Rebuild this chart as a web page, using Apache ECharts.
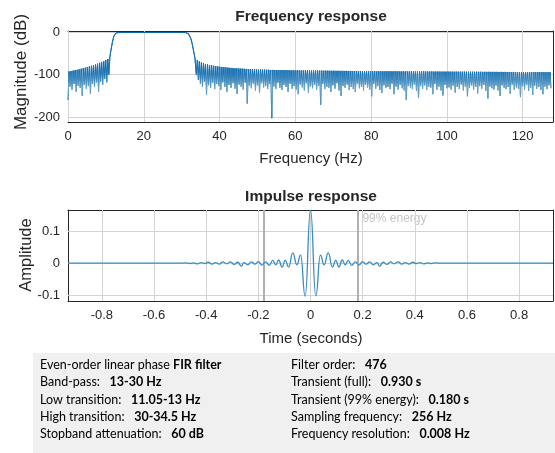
<!DOCTYPE html>
<html>
<head>
<meta charset="utf-8">
<script src="https://cdn.jsdelivr.net/npm/echarts@6/dist/echarts.min.js"></script>
<style>
  html, body { margin: 0; padding: 0; background: #ffffff; }
  #chart { width: 555px; height: 453px; }
</style>
</head>
<body>
<div id="chart"></div>
<script>
// ---------- Frequency response (magnitude, dB) ----------
// Stopband sidelobes: one peak and one null per lobe.
const lobeStep = 0.538;          // Hz between neighbouring sidelobes
const lowStopStart = 0;          // first null of the lower stopband
const lowStopNulls = [-160, -128, -135, -122, -140, -126, -131, -150, -124, -133, -127,
  -145, -122, -129, -118, -140, -116, -124, -110, -118, -100];
const lowStopPeaks = [-92.5, -91.5, -90.5, -89.5, -88.5, -87.3, -86, -84.8, -83.5, -82, -80.5,
  -79, -77.5, -76, -74, -72, -70, -68, -65.5, -63, -60.5];

// Transition bands and passband
const transitionFreq = [11.2, 11.45, 11.7, 11.95, 12.2, 12.45, 12.7, 13.0, 13.5,
  30.0, 31.0, 31.4, 31.8, 32.1, 32.4, 32.7, 33.0, 33.3, 33.5];
const transitionMag = [-49, -36, -24, -14, -7, -3, -1, -0.2, 0,
  0, -0.2, -0.8, -3, -7, -14, -24, -37, -51, -60];

const highStopStart = 33.6;      // first peak of the upper stopband
const highStopPeaks = [
  -62, -65.5, -68.5, -71, -73, -74.6, -75.9, -77.1, -78, -79,
  -79.7, -80.6, -81.1, -81.9, -82.2, -82.9, -83.2, -83.8, -84, -84.6,
  -84.8, -85.3, -85.4, -85.9, -86, -86.5, -86.5, -87, -87, -87.4,
  -87.4, -87.8, -87.8, -88.1, -88.1, -88.5, -88.4, -88.8, -88.7, -89,
  -88.9, -89.2, -89.1, -89.4, -89.3, -89.6, -89.4, -89.7, -89.6, -89.9,
  -89.8, -90, -89.9, -90.1, -90, -90.2, -90.1, -90.3, -90.2, -90.4,
  -90.3, -90.5, -90.4, -90.6, -90.5, -90.7, -90.6, -90.8, -90.7, -90.9,
  -90.8, -91, -90.9, -91.1, -91, -91.2, -91.1, -91.3, -91.2, -91.4,
  -91.3, -91.5, -91.4, -91.6, -91.5, -91.7, -91.6, -91.8, -91.7, -91.9,
  -91.9, -92.0, -91.9, -92.1, -92.0, -92.1, -92.0, -92.2, -92.1, -92.2,
  -92.1, -92.3, -92.2, -92.3, -92.2, -92.4, -92.3, -92.4, -92.3, -92.5,
  -92.4, -92.5, -92.4, -92.6, -92.5, -92.6, -92.5, -92.7, -92.6, -92.7,
  -92.6, -92.8, -92.7, -92.8, -92.7, -92.9, -92.8, -92.9, -92.8, -93.0,
  -92.9, -93.0, -92.9, -93.1, -93.0, -93.1, -93.0, -93.2, -93.1, -93.2,
  -93.1, -93.3, -93.2, -93.3, -93.2, -93.4, -93.3, -93.4, -93.3, -93.5,
  -93.4, -93.5, -93.4, -93.6, -93.5, -93.6, -93.5, -93.7, -93.6, -93.7,
  -93.6, -93.8, -93.7, -93.8, -93.7, -93.9, -93.8, -93.9, -93.8, -94.0,
  -93.9, -94.0, -93.9, -94.1, -94.0];
const highStopNulls = [
  -100, -112, -121, -128, -117, -148, -125, -131, -119, -134,
  -122, -127, -136, -118, -129, -140, -124, -131, -120, -133,
  -145, -123, -128, -135, -119, -168, -126, -132, -121, -137,
  -125, -142, -120, -130, -127, -134, -122, -203, -128, -133,
  -119, -131, -136, -124, -129, -140, -121, -133, -127, -135,
  -146, -123, -130, -137, -120, -142, -128, -132, -124, -136,
  -126, -171, -122, -134, -129, -131, -141, -125, -133, -120,
  -137, -150, -127, -131, -123, -136, -129, -134, -141, -121,
  -132, -128, -137, -124, -130, -135, -151, -122, -133, -127,
  -136, -143, -125, -131, -129, -134, -121, -146, -128, -135,
  -124, -132, -137, -160, -126, -130, -134, -123, -138, -154,
  -127, -133, -125, -136, -129, -131, -146, -122, -135, -128,
  -137, -149, -124, -132, -130, -135, -126, -142, -129, -134,
  -123, -137, -128, -151, -131, -125, -136, -129, -144, -127,
  -133, -124, -138, -156, -128, -132, -135, -126, -137, -150,
  -125, -131, -134, -129, -145, -123, -136, -130, -133, -153,
  -127, -135, -124, -138, -131, -148, -126, -133, -129, -136,
  -146, -128, -134, -125, -132];

const freqRange = [0, 128];
const magRange = [-212, 3.5];
const freqTicks = [0, 20, 40, 60, 80, 100, 120];
const magTicks = [-200, -100, 0];

// ---------- Impulse response ----------
const impulseTime = [-0.93, -0.5, -0.48, -0.462, -0.448, -0.434, -0.42, -0.406, -0.392, -0.378,
  -0.364, -0.35, -0.336, -0.321, -0.307, -0.293, -0.279, -0.265, -0.255, -0.241,
  -0.227, -0.213, -0.2, -0.186, -0.172, -0.158, -0.145, -0.133, -0.122, -0.109,
  -0.097, -0.084, -0.068, -0.052, -0.038, -0.0205, 0, 0.0205, 0.038, 0.052,
  0.068, 0.084, 0.097, 0.109, 0.122, 0.133, 0.145, 0.158, 0.172, 0.186,
  0.2, 0.213, 0.227, 0.241, 0.255, 0.265, 0.279, 0.293, 0.307, 0.321,
  0.336, 0.35, 0.364, 0.378, 0.392, 0.406, 0.42, 0.434, 0.448, 0.462,
  0.48, 0.5, 0.93];
const impulseAmp = [0, 0, 0.001, -0.001, 0.001, -0.002, 0.002, -0.001, 0.003, -0.003,
  0.002, -0.003, 0.004, -0.002, 0.004, -0.004, 0.003, -0.009, 0.002, -0.005,
  0.004, -0.003, 0.005, -0.006, 0.004, -0.007, 0.009, -0.005, 0.010, -0.012,
  0.009, -0.012, 0.032, -0.005, 0.025, -0.103, 0.166, -0.102, 0.025, -0.005,
  0.032, -0.012, 0.009, -0.012, 0.010, -0.005, 0.009, -0.007, 0.004, -0.006,
  0.005, -0.003, 0.004, -0.005, 0.002, -0.009, 0.003, -0.004, 0.004, -0.002,
  0.004, -0.003, 0.002, -0.003, 0.003, -0.001, 0.002, -0.002, 0.001, -0.001,
  0.001, 0, 0];
const energyBounds = [-0.18, 0.18];   // 99% energy window, s
const timeRange = [-0.93, 0.93];
const ampRange = [-0.118, 0.166];
const timeTicks = [-0.8, -0.6, -0.4, -0.2, 0, 0.2, 0.4, 0.6, 0.8];
const ampTicks = [-0.1, 0, 0.1];

// ---------- Filter summary ----------
const infoLeft = [
  ['Even-order linear phase ', 'FIR filter'],
  ['Band-pass:   ', '13-30 Hz'],
  ['Low transition:   ', '11.05-13 Hz'],
  ['High transition:   ', '30-34.5 Hz'],
  ['Stopband attenuation:   ', '60 dB']
];
const infoRight = [
  ['Filter order:   ', '476'],
  ['Transient (full):   ', '0.930 s'],
  ['Transient (99% energy):   ', '0.180 s'],
  ['Sampling frequency:   ', '256 Hz'],
  ['Frequency resolution:   ', '0.008 Hz']
];

// ---------- build series data ----------
function zigzag(start, step, first, second) {
  const pts = [];
  first.forEach((v, i) => {
    pts.push([start + i * step, v]);
    pts.push([start + (i + 0.5) * step, second[i]]);
  });
  return pts;
}
const freqData = [].concat(
  zigzag(lowStopStart, lobeStep, lowStopNulls, lowStopPeaks),
  transitionFreq.map((f, i) => [f, transitionMag[i]]),
  zigzag(highStopStart, lobeStep, highStopPeaks, highStopNulls)
);
const impulseData = impulseTime.map((t, i) => [t, impulseAmp[i]]);

// ---------- styling ----------
const AXIS_COLOR = '#262626';
const GRID_COLOR = '#d2d2d2';
const FONT = 'Liberation Sans, Arial, sans-serif';

function boxAxis(gridIndex, position, range, ticks, withLabels, fmt) {
  return {
    type: 'value', gridIndex, position,
    min: range[0], max: range[1],
    axisLine: { show: true, onZero: false, lineStyle: { color: AXIS_COLOR, width: 1 } },
    axisTick: { show: true, inside: true, length: 4, customValues: ticks,
      lineStyle: { color: AXIS_COLOR, width: 1 } },
    axisLabel: withLabels ? {
      show: true, customValues: ticks, margin: 8, color: AXIS_COLOR,
      fontFamily: FONT, fontSize: 13, formatter: fmt
    } : { show: false },
    splitLine: { show: false },
    minorTick: { show: false }
  };
}

const gridLineStyle = { color: GRID_COLOR, width: 1, type: 'solid' };
function gridMarks(xTicks, yTicks) {
  return xTicks.map(v => ({ xAxis: v, lineStyle: gridLineStyle }))
    .concat(yTicks.map(v => ({ yAxis: v, lineStyle: gridLineStyle })));
}

const chart = echarts.init(document.getElementById('chart'), null, { renderer: 'canvas' });

const option = {
  animation: false,
  backgroundColor: '#ffffff',
  grid: [
    { left: 68, top: 31, width: 485, height: 91, outerBoundsMode: 'none', containLabel: false },
    { left: 68, top: 210, width: 485, height: 91, outerBoundsMode: 'none', containLabel: false }
  ],
  xAxis: [
    boxAxis(0, 'bottom', freqRange, freqTicks, true, v => String(v)),
    boxAxis(0, 'top', freqRange, freqTicks, false),
    boxAxis(1, 'bottom', timeRange, timeTicks, true, v => String(Math.round(v * 10) / 10)),
    boxAxis(1, 'top', timeRange, timeTicks, false)
  ],
  yAxis: [
    boxAxis(0, 'left', magRange, magTicks, true, v => String(v)),
    boxAxis(0, 'right', magRange, magTicks, false),
    boxAxis(1, 'left', ampRange, ampTicks, true, v => String(Math.round(v * 10) / 10)),
    boxAxis(1, 'right', ampRange, ampTicks, false)
  ],
  series: [
    {
      // grid lines of the frequency plot
      type: 'line', xAxisIndex: 0, yAxisIndex: 0, data: [], z: 1, silent: true,
      markLine: { silent: true, symbol: 'none', z: 1, animation: false,
        label: { show: false }, data: gridMarks(freqTicks, magTicks) }
    },
    {
      type: 'line', name: 'Magnitude', xAxisIndex: 0, yAxisIndex: 0, z: 3,
      data: freqData, showSymbol: false, symbol: 'none', silent: true,
      lineStyle: {
        width: 1,
        color: {
          type: 'linear', x: 0, y: 31, x2: 0, y2: 122, global: true,
          colorStops: [
            { offset: 0, color: '#0d69ad' },
            { offset: 0.45, color: '#1a72b3' },
            { offset: 0.62, color: '#6aa4c9' },
            { offset: 1, color: '#2f7ea8' }
          ]
        }
      }
    },
    {
      // grid lines and 99% energy bounds of the impulse plot
      type: 'line', xAxisIndex: 2, yAxisIndex: 2, data: [], z: 1, silent: true,
      markLine: { silent: true, symbol: 'none', z: 1, animation: false,
        label: { show: false },
        data: gridMarks(timeTicks, ampTicks).concat(
          energyBounds.map(v => ({ xAxis: v, lineStyle: { color: '#b0b0b0', width: 2, type: 'solid' } })))
      }
    },
    {
      type: 'line', name: 'Impulse', xAxisIndex: 2, yAxisIndex: 2, z: 3,
      data: impulseData, showSymbol: false, symbol: 'none', silent: true,
      smooth: 0.5, smoothMonotone: 'x',
      lineStyle: { width: 1.3, color: '#3a8cc0' }
    }
  ]
};
chart.setOption(option);

// ---------- titles, axis names, annotation, summary panel ----------
const energyPx = chart.convertToPixel({ xAxisIndex: 2, yAxisIndex: 2 }, [energyBounds[1], ampRange[1]]);

function textEl(text, x, y, font, extra) {
  return Object.assign({
    type: 'text', x, y, silent: true,
    style: { text, font, fill: AXIS_COLOR, align: 'center', verticalAlign: 'middle' }
  }, extra || {});
}

const INFO_FONT = 'Lato, "Noto Sans", sans-serif';
const rich = { b: { fontWeight: 'bold', fontFamily: INFO_FONT, fontSize: 12.5, fill: '#000000' } };
const infoRowsY = [365, 382.3, 399.7, 417, 434.3];
function infoEls(rows, x) {
  return rows.map((r, i) => ({
    type: 'text', x, y: infoRowsY[i], silent: true,
    style: {
      text: r[0] + '{b|' + r[1] + '}',
      rich, fontFamily: INFO_FONT, fontSize: 12.5, fill: '#000000',
      align: 'left', verticalAlign: 'middle'
    }
  }));
}

chart.setOption({
  graphic: { elements: [
    { type: 'rect', shape: { x: 33, y: 353, width: 522, height: 100 }, z: -1, silent: true,
      style: { fill: '#f0f0f0' } },
    textEl('Frequency response', 311, 16.5, 'bold 15.5px ' + FONT),
    textEl('Impulse response', 311, 196.5, 'bold 15.5px ' + FONT),
    textEl('Frequency (Hz)', 311, 159, '15px ' + FONT),
    textEl('Time (seconds)', 311, 339, '15px ' + FONT),
    textEl('Magnitude (dB)', 21.5, 72, '17px ' + FONT, { rotation: Math.PI / 2 }),
    textEl('Amplitude', 26, 255, '16.5px ' + FONT, { rotation: Math.PI / 2 }),
    {
      type: 'text', x: energyPx[0] + 5, y: energyPx[1] + 9, silent: true,
      style: { text: '99% energy', font: '12px ' + FONT, fill: '#c4c4c4',
        align: 'left', verticalAlign: 'middle' }
    }
  ].concat(infoEls(infoLeft, 40), infoEls(infoRight, 291)) }
});
</script>
</body>
</html>
